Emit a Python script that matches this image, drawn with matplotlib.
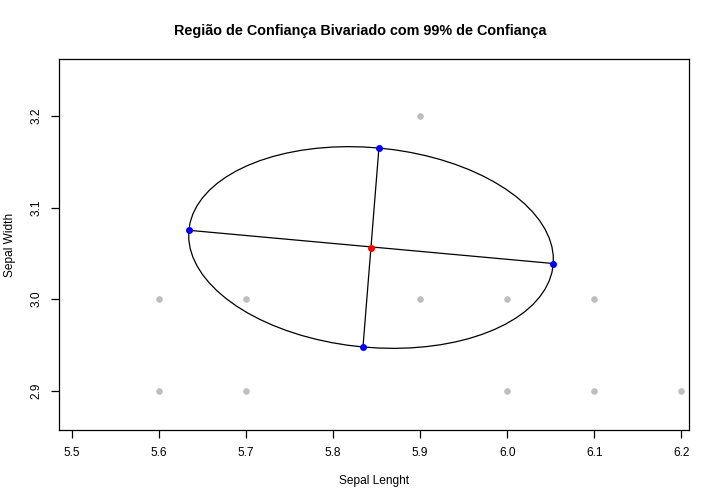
import numpy as np
import matplotlib.pyplot as plt

plt.rcParams['font.family'] = ['Liberation Sans', 'DejaVu Sans']

# observed data (gray)
sepal_length = [5.6, 5.7, 5.9, 6.0, 6.1, 5.6, 5.7, 6.0, 6.1, 6.2, 5.9]
sepal_width = [3.0, 3.0, 3.0, 3.0, 3.0, 2.9, 2.9, 2.9, 2.9, 2.9, 3.2]

# ellipse centre and axis end points
center = [5.8437, 3.0564]
axis_x = [5.6347, 6.0530, 5.8528, 5.8345]
axis_y = [3.0752, 3.0389, 3.1654, 2.9480]

xticks = [5.5, 5.6, 5.7, 5.8, 5.9, 6.0, 6.1, 6.2]
yticks = [2.9, 3.0, 3.1, 3.2]

# semi-axis vectors from the end points
a = (np.array([axis_x[1], axis_y[1]]) - np.array([axis_x[0], axis_y[0]])) / 2
b = (np.array([axis_x[2], axis_y[2]]) - np.array([axis_x[3], axis_y[3]])) / 2
t = np.linspace(0, 2 * np.pi, 73)
ex = center[0] + a[0] * np.cos(t) + b[0] * np.sin(t)
ey = center[1] + a[1] * np.cos(t) + b[1] * np.sin(t)

fig = plt.figure(figsize=(7.2, 5.04), dpi=100)
ax = fig.add_axes([0.0824, 0.1468, 0.875, 0.7355])

ax.scatter(sepal_length, sepal_width, s=14, color='#BEBEBE', zorder=2)
ax.plot(ex, ey, color='black', lw=0.9, zorder=3)
ax.plot(axis_x[:2], axis_y[:2], color='black', lw=0.9, zorder=3)
ax.plot(axis_x[2:], axis_y[2:], color='black', lw=0.9, zorder=3)
ax.scatter(axis_x, axis_y, s=16, color='#0000FF', zorder=4)
ax.scatter([center[0]], [center[1]], s=16, color='#FF0000', zorder=4)

ax.set_xlim(5.486, 6.209)
ax.set_ylim(2.857, 3.262)
ax.set_xticks(xticks)
ax.set_xticklabels([f"{v:.1f}" for v in xticks])
ax.set_yticks(yticks)
ax.set_yticklabels([f"{v:.1f}" for v in yticks], rotation=90, va='center')
ax.tick_params(length=6, width=0.9, labelsize=8.6, pad=6)
for s in ax.spines.values():
    s.set_linewidth(0.9)

fig.text(0.5, 1 - 31 / 504, "Região de Confiança Bivariado com 99% de Confiança",
         ha='center', va='center', fontsize=10.4, fontweight='bold')
fig.text((59.3 + 689.3) / 2 / 720, 1 - 481 / 504, "Sepal Lenght",
         ha='center', va='center', fontsize=8.6)
fig.text(10 / 720, 1 - 245 / 504, "Sepal Width", ha='center', va='center',
         rotation=90, fontsize=8.6)

plt.savefig("out.png", dpi=100)
